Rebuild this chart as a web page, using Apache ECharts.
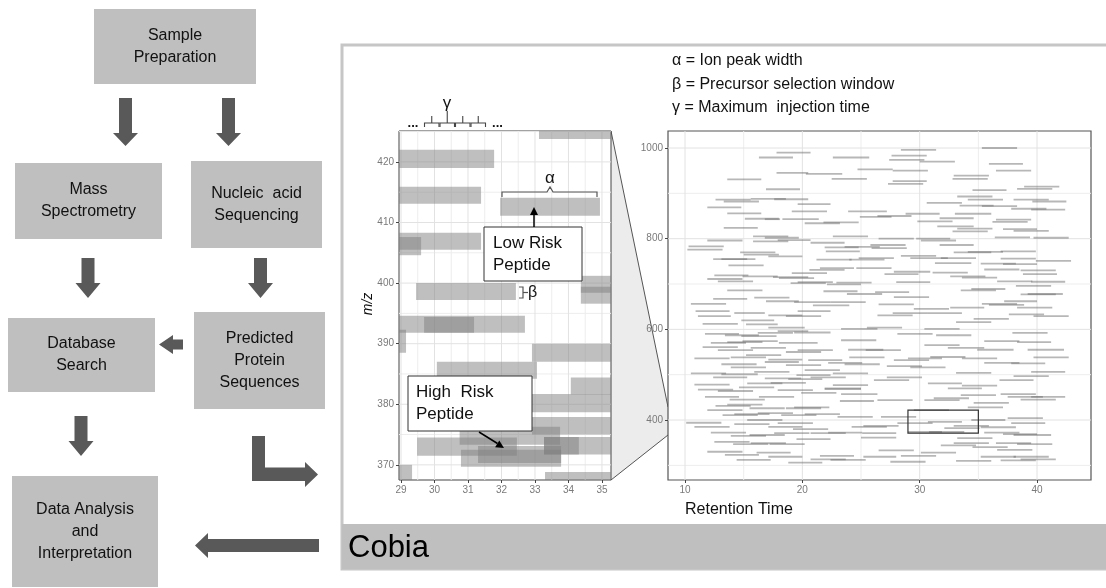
<!DOCTYPE html>
<html>
<head>
<meta charset="utf-8">
<script src="https://cdn.jsdelivr.net/npm/echarts@6/dist/echarts.min.js"></script>
<style>
  html, body { margin: 0; padding: 0; background: #fff; }
  #main { width: 1106px; height: 588px; }
</style>
</head>
<body>
<div id="main"></div>
<script>
// ---------- workflow steps ----------
const stepLabels = [
  'Sample\nPreparation',
  'Mass\nSpectrometry',
  'Nucleic  acid\nSequencing',
  'Database\nSearch',
  'Predicted\nProtein\nSequences',
  'Data Analysis\nand\nInterpretation'
];

// ---------- legend of the parameters ----------
const paramNotes = ['α = Ion peak width', 'β = Precursor selection window', 'γ = Maximum  injection time'];
const panelTitle = 'Cobia';

// ---------- magnified region: axis ranges and ticks ----------
const zoomX = [28.94, 35.27];
const zoomY = [367.5, 425.1];
const zoomXTicks = [29, 30, 31, 32, 33, 34, 35];
const zoomYTicks = [370, 380, 390, 400, 410, 420];
const zoomXMinor = [29.5, 30.5, 31.5, 32.5, 33.5, 34.5];
const zoomYMinor = [375, 385, 395, 405, 415, 425];

// precursor windows: [rtStart, rtEnd, mzLow, mzHigh]
const precursorWindows = [
  [33.12, 35.6, 423.8, 427.0],
  [28.6, 31.78, 419.0, 422.0],
  [28.6, 31.39, 413.1, 415.9],
  [31.96, 34.94, 411.1, 414.1],
  [28.6, 31.39, 405.5, 408.3],
  [28.6, 29.6, 404.6, 407.6],
  [29.45, 32.43, 397.2, 400.0],
  [34.37, 35.6, 398.4, 401.2],
  [34.37, 35.6, 396.6, 399.4],
  [28.6, 32.70, 391.8, 394.6],
  [29.69, 31.18, 391.8, 394.4],
  [28.6, 29.15, 388.5, 392.3],
  [32.91, 35.6, 387.0, 390.0],
  [30.07, 33.06, 384.2, 387.0],
  [34.07, 35.6, 381.6, 384.4],
  [32.91, 35.6, 378.7, 381.7],
  [32.91, 35.6, 375.0, 377.9],
  [30.75, 33.75, 373.3, 376.3],
  [29.48, 32.46, 371.5, 374.5],
  [31.3, 33.78, 370.3, 373.1],
  [30.79, 33.78, 369.7, 372.5],
  [33.27, 34.31, 371.7, 374.6],
  [33.27, 35.6, 371.7, 374.6],
  [33.3, 35.6, 366.0, 368.8],
  [28.6, 29.33, 366.0, 370.0]
];

// ---------- full run: axis ranges and ticks ----------
const overX = [8.55, 44.6];
const overY = [267.7, 1037.5];
const overXTicks = [10, 20, 30, 40];
const overYTicks = [400, 600, 800, 1000];
const overXMinor = [15, 25, 35];
const overYMinor = [300, 500, 700, 900];

// region shown magnified: [rtStart, rtEnd, mzLow, mzHigh]
const zoomBox = [[29, 35, 371, 422]];

// ion peaks: [rtStart, rtEnd, mz]
const ionPeaks = [
  [17.8,20.7,990],[16.3,19.2,979],[22.6,25.7,979],[24.7,27.7,953],[17.8,20.5,945],[20.3,23.4,943],[13.6,16.5,931],[22.5,25.5,932],
  [16.9,19.8,909],[12.6,15.6,886],[13.3,16.3,882],[15.6,18.6,888],[17.6,20.5,887],[11.9,14.8,869],[19.6,22.4,876],[19.1,22.1,860],
  [23.9,27.2,860],[13.6,16.5,856],[15.1,18.0,844],[16.8,18.1,843],[18.3,21.4,843],[24.9,27.6,848],[20.2,23.2,834],[21.8,24.8,836],
  [13.3,16.2,824],[15.8,18.8,805],[16.8,19.7,802],[22.6,25.6,805],[11.9,14.9,796],[15.8,18.8,794],[17.9,20.7,797],[20.7,23.6,791],
  [10.3,13.3,783],[10.2,13.2,776],[21.9,24.8,781],[23.6,26.6,782],[14.7,17.7,770],[15.0,18.0,765],[22.0,24.9,772],[12.4,15.3,755],
  [13.1,16.0,755],[17.1,20.0,761],[21.2,24.2,754],[24.0,27.0,754],[13.7,16.7,741],[21.5,24.4,735],[20.6,23.6,731],[19.1,22.1,724],
  [12.5,15.4,719],[11.9,14.9,711],[12.8,15.8,706],[14.9,17.9,717],[17.5,20.5,715],[18.0,21.0,713],[19.0,22.0,702],[19.6,22.6,704],
  [22.1,25.0,699],[22.9,25.9,703],[13.6,16.6,686],[21.8,24.7,684],[23.8,26.8,678],[12.4,15.3,667],[15.9,18.9,670],[16.9,19.7,662],
  [19.3,22.4,660],[10.5,13.5,656],[22.4,25.4,660],[20.9,24.0,653],
  [28.4,31.4,996],[35.3,38.3,1000],[27.6,30.6,983],[27.4,30.4,974],[30.0,33.0,970],[27.7,30.7,950],[35.9,38.8,965],[36.5,39.5,950],
  [27.7,30.6,927],[27.3,30.3,921],[32.9,35.9,939],[32.8,35.8,932],[34.5,37.4,907],[38.3,41.3,910],[38.9,41.9,915],[33.2,36.2,893],
  [34.1,37.1,886],[38.0,41.0,886],[39.6,42.5,882],[30.6,33.6,879],[33.4,36.3,873],[35.3,38.3,872],[37.8,40.8,866],[39.5,42.4,864],
  [28.8,31.7,855],[26.4,29.3,850],[33.0,36.1,855],[31.7,34.6,845],[29.8,32.8,838],[36.5,39.5,842],[36.2,39.2,837],[31.5,34.6,827],
  [33.2,36.2,822],[32.8,35.8,816],[37.1,40.0,821],[38.0,41.0,817],[26.5,29.5,800],[29.7,32.6,800],[30.1,33.1,796],[36.4,39.4,803],
  [39.7,42.7,802],[25.8,28.8,786],[31.7,34.6,786],[25.9,28.9,779],[28.4,31.4,762],[32.9,36.1,770],[34.1,37.1,771],[36.9,39.9,772],
  [24.8,27.8,757],[31.8,34.8,757],[29.2,32.4,757],[36.9,39.9,756],[31.3,34.4,746],[35.2,38.2,745],[37.1,40.0,744],[39.9,42.9,751],
  [24.6,27.6,735],[27.0,29.9,722],[27.8,30.9,727],[31.1,34.1,725],[32.6,35.6,717],[33.6,36.6,714],[35.5,38.5,732],[38.6,41.6,730],
  [38.8,41.7,722],[36.6,39.6,706],[28.0,30.9,704],[38.2,41.2,696],[39.5,42.4,705],[33.5,36.5,686],[34.4,37.3,689],[26.2,29.1,682],
  [38.6,41.6,677],[39.2,42.2,678],[27.8,30.8,671],[37.2,40.0,662],[26.5,29.5,655],[35.3,38.3,656],[35.9,38.9,654],
  [10.9,13.8,640],[14.2,16.8,636],[11.1,13.9,629],[14.8,17.6,620],[15.2,17.9,611],[17.1,20.0,631],[18.6,21.6,629],[19.6,22.4,640],
  [11.5,14.5,612],[17.1,20.2,604],[17.9,20.5,596],[23.3,26.4,601],[11.7,14.6,590],[13.4,16.3,587],[14.8,17.8,585],[16.2,19.2,592],
  [19.3,22.4,593],[12.2,15.2,570],[13.6,16.6,572],[14.9,17.9,574],[18.0,21.3,570],[23.3,26.3,576],[11.5,14.5,561],[12.8,15.8,554],
  [15.6,18.6,559],[18.6,21.6,550],[19.6,22.6,554],[23.9,26.9,555],[10.8,13.8,536],[13.9,16.9,538],[15.2,18.2,543],[17.1,20.0,533],
  [20.5,23.4,532],[24.0,27.0,538],[13.1,16.1,523],[13.9,16.9,516],[16.8,19.7,528],[18.6,21.6,521],[20.2,23.2,510],[22.2,25.1,526],
  [23.6,26.6,523],[10.5,13.5,503],[13.1,16.2,501],[15.9,18.9,506],[12.4,15.3,494],[16.8,19.9,492],[19.5,22.4,499],[20.7,23.7,494],
  [22.6,25.6,503],[18.8,21.7,490],[10.8,13.8,478],[15.3,18.3,481],[17.3,20.3,482],[21.9,25.0,470],[21.9,25.0,468],[22.6,25.6,477],
  [11.1,14.1,467],[12.8,15.8,464],[14.6,17.6,472],[17.9,20.9,466],[19.9,22.9,460],[23.3,26.4,457],[11.7,14.6,451],[13.8,16.8,445],
  [16.3,19.3,451],[23.2,26.1,442],[13.6,16.6,434],[12.6,15.6,431],[19.3,22.3,428],[18.6,21.6,426],[15.5,18.5,426],[11.9,14.9,422],
  [13.2,16.2,411],[14.2,17.2,413],[16.2,19.2,415],[18.2,21.2,411],[20.2,23.2,413],[10.1,13.1,394],[10.8,13.8,385],[14.2,17.2,391],
  [15.3,18.3,400],[17.9,20.9,393],[17.1,20.0,385],[23.0,26.0,407],[24.2,27.2,385],[12.2,15.2,372],[13.9,16.9,365],[15.5,18.5,367],
  [17.6,20.6,371],[19.2,22.2,380],[20.7,23.7,371],[22.2,25.1,372],[12.5,15.5,352],[14.1,17.1,347],[15.6,18.6,349],[17.2,20.2,347],
  [19.5,22.4,358],[11.9,14.9,330],[13.4,16.3,323],[16.1,19.0,328],[17.1,20.0,319],[14.4,17.3,312],[18.8,21.7,306],[21.5,24.4,321],
  [20.7,23.7,313],[22.4,25.4,312],[25.2,28.0,319],
  [29.5,32.5,645],[32.6,35.5,648],[38.3,41.3,648],[26.4,29.4,631],[27.7,30.7,636],[30.7,33.6,636],[34.6,37.6,623],[37.6,40.6,633],
  [39.7,42.7,629],[33.1,36.1,616],[30.4,33.4,601],[25.5,28.5,604],[37.9,40.9,592],[28.1,31.1,590],[31.4,34.4,587],[35.5,38.5,574],
  [38.3,41.2,572],[30.4,33.4,565],[32.4,35.5,559],[34.9,38.0,555],[39.2,42.3,555],[25.4,28.4,554],[27.8,30.8,532],[29.0,31.9,536],
  [30.9,33.9,539],[33.6,36.6,536],[35.5,38.5,526],[37.8,40.7,525],[39.7,42.7,538],[27.2,30.2,519],[29.2,32.2,516],[33.1,36.1,504],
  [38.0,41.0,497],[39.5,42.4,506],[26.1,29.1,488],[27.2,30.2,494],[30.7,33.6,481],[32.4,35.3,470],[33.6,36.6,476],[36.8,39.7,488],
  [31.2,34.2,448],[30.4,33.4,444],[33.5,36.5,455],[34.6,37.6,438],[36.9,39.9,457],[37.5,40.5,451],[39.5,42.4,451],[38.6,41.6,445],
  [26.4,29.4,444],[34.1,37.1,428],[29.5,32.5,422],[26.7,29.7,407],[34.4,37.3,400],[37.5,40.5,404],[28.1,31.1,393],[30.7,33.6,396],
  [32.1,35.1,382],[32.9,35.9,387],[35.2,38.2,384],[37.8,40.7,393],[25.2,28.2,387],[30.8,33.8,374],[25.1,28.0,371],[35.5,38.5,372],
  [29.0,31.9,374],[37.1,40.0,369],[25.0,28.0,361],[33.2,36.2,360],[38.0,41.2,367],[31.8,34.8,344],[32.9,35.9,349],[34.5,37.5,340],
  [36.5,39.5,349],[38.3,41.3,347],[26.5,29.5,333],[30.1,33.1,328],[36.6,39.6,334],[28.4,31.4,321],[33.1,36.1,310],[35.2,38.2,319],
  [38.0,41.0,319],[38.6,41.6,313],[27.5,30.5,308],[36.9,39.9,311]
];

// ---------- styling ----------
const FONT = '"Liberation Sans", Arial, sans-serif';
const BOX_FILL = '#bfbfbf';
const ARROW_FILL = '#595959';
const GRID_MAJOR = '#e2e2e2';
const GRID_MINOR = '#ededed';
const AXIS_TEXT = '#7a7a7a';

// ---------- flowchart layout ----------
const stepBoxes = [
  [94, 9, 162, 75],
  [15, 163, 147, 76],
  [191, 161, 131, 87],
  [8, 318, 147, 74],
  [194, 312, 131, 97],
  [12, 476, 146, 111]
];

function downArrow(cx, y0, y1, headY) {
  return [[cx - 6.5, y0], [cx + 6.5, y0], [cx + 6.5, headY], [cx + 12.5, headY], [cx, y1], [cx - 12.5, headY], [cx - 6.5, headY]];
}
const arrowShapes = [
  downArrow(125.5, 98, 146, 133),
  downArrow(228.5, 98, 146, 133),
  downArrow(88, 258, 298, 283),
  downArrow(260.5, 258, 298, 283),
  downArrow(81, 416, 456, 441),
  [[183, 339.5], [173, 339.5], [173, 335], [159, 344.5], [173, 354], [173, 349.5], [183, 349.5]],
  [[252, 436], [265, 436], [265, 467.5], [305, 467.5], [305, 462], [318, 474.5], [305, 487], [305, 481], [252, 481]],
  [[319, 539], [208, 539], [208, 533], [195, 545.5], [208, 558], [208, 552], [319, 552]]
];

const graphics = [];

// panel frame and title band
graphics.push({ type: 'rect', z: -10, shape: { x: 342, y: 45, width: 800, height: 524 },
  style: { fill: '#ffffff', stroke: '#c6c6c6', lineWidth: 3 } });
graphics.push({ type: 'rect', z: -9, shape: { x: 342, y: 524, width: 800, height: 45 },
  style: { fill: '#bfbfbf' } });
graphics.push({ type: 'text', z: 50, x: 348, y: 548,
  style: { text: panelTitle, font: '31px ' + FONT, fill: '#000', verticalAlign: 'middle' } });

// boxes
stepLabels.forEach((label, i) => {
  const [x, y, w, h] = stepBoxes[i];
  graphics.push({ type: 'rect', shape: { x, y, width: w, height: h }, style: { fill: BOX_FILL } });
  graphics.push({ type: 'text', x: x + w / 2, y: y + h / 2,
    style: { text: label, font: '16px ' + FONT, fill: '#111', align: 'center', verticalAlign: 'middle', lineHeight: 22 } });
});
arrowShapes.forEach(pts => {
  graphics.push({ type: 'polygon', shape: { points: pts }, style: { fill: ARROW_FILL } });
});

// parameter notes
paramNotes.forEach((t, i) => {
  graphics.push({ type: 'text', x: 672, y: 61 + i * 23.5,
    style: { text: t, font: '16px ' + FONT, fill: '#111', verticalAlign: 'middle' } });
});

// magnification wedge between the two plots
graphics.push({ type: 'polygon', z: -5, shape: { points: [[611, 131], [668, 407], [668, 435], [611, 480]] },
  style: { fill: '#ececec' } });
graphics.push({ type: 'polyline', z: -4, shape: { points: [[611, 131], [668, 407]] }, style: { stroke: '#555', lineWidth: 1 } });
graphics.push({ type: 'polyline', z: -4, shape: { points: [[611, 480], [668, 435]] }, style: { stroke: '#555', lineWidth: 1 } });

// axis titles
graphics.push({ type: 'text', z: 50, x: 368, y: 304, rotation: Math.PI / 2,
  style: { text: 'm/z', font: 'italic 14px ' + FONT, fill: '#111', align: 'center', verticalAlign: 'middle' } });
graphics.push({ type: 'text', z: 50, x: 685, y: 510,
  style: { text: 'Retention Time', font: '16px ' + FONT, fill: '#111', verticalAlign: 'middle' } });

// annotations in the magnified plot
const ANN = '#333';
graphics.push({ type: 'rect', z: 100, shape: { x: 484, y: 227, width: 98, height: 54 },
  style: { fill: '#fff', stroke: ANN, lineWidth: 1 } });
graphics.push({ type: 'text', z: 101, x: 493, y: 254,
  style: { text: 'Low Risk\nPeptide', font: '17px ' + FONT, fill: '#111', verticalAlign: 'middle', lineHeight: 22 } });
graphics.push({ type: 'line', z: 101, shape: { x1: 534, y1: 227, x2: 534, y2: 213 }, style: { stroke: '#000', lineWidth: 1.5 } });
graphics.push({ type: 'polygon', z: 101, shape: { points: [[530, 215], [538, 215], [534, 207]] }, style: { fill: '#000' } });

graphics.push({ type: 'rect', z: 100, shape: { x: 408, y: 376, width: 124, height: 55 },
  style: { fill: '#fff', stroke: ANN, lineWidth: 1 } });
graphics.push({ type: 'text', z: 101, x: 416, y: 403.5,
  style: { text: 'High  Risk\nPeptide', font: '17px ' + FONT, fill: '#111', verticalAlign: 'middle', lineHeight: 22 } });
graphics.push({ type: 'line', z: 101, shape: { x1: 479, y1: 432, x2: 497.5, y2: 443.5 }, style: { stroke: '#000', lineWidth: 1.5 } });
graphics.push({ type: 'polygon', z: 101, shape: { points: [[504, 448], [495.1, 447.2], [499.3, 440.4]] }, style: { fill: '#000' } });

// alpha bracket
graphics.push({ type: 'polyline', z: 101, shape: { points: [[502, 197], [502, 192], [547, 192], [550, 187], [553, 192], [597, 192], [597, 197]] },
  style: { stroke: '#555', lineWidth: 1.2, fill: null } });
graphics.push({ type: 'text', z: 101, x: 550, y: 178,
  style: { text: 'α', font: '17px ' + FONT, fill: '#111', align: 'center', verticalAlign: 'middle' } });
// beta bracket
graphics.push({ type: 'polyline', z: 101, shape: { points: [[519, 287], [523, 287], [523, 298], [519, 298]] },
  style: { stroke: '#555', lineWidth: 1.2, fill: null } });
graphics.push({ type: 'line', z: 101, shape: { x1: 523, y1: 292.5, x2: 528, y2: 292.5 }, style: { stroke: '#555', lineWidth: 1.2 } });
graphics.push({ type: 'text', z: 101, x: 528, y: 293,
  style: { text: 'β', font: '16px ' + FONT, fill: '#111', verticalAlign: 'middle' } });
// gamma brackets
for (let k = 0; k < 4; k++) {
  const x0 = 424.5 + k * 15.5, x1 = x0 + 14.5, xm = (x0 + x1) / 2;
  graphics.push({ type: 'polyline', z: 101, shape: { points: [[x0, 127], [x0, 123], [x1, 123], [x1, 127]] },
    style: { stroke: '#444', lineWidth: 1.1, fill: null } });
  graphics.push({ type: 'line', z: 101, shape: { x1: xm, y1: 123, x2: xm, y2: k === 1 ? 111 : 116 },
    style: { stroke: '#444', lineWidth: 1.1 } });
}
graphics.push({ type: 'text', z: 101, x: 447, y: 103,
  style: { text: 'γ', font: '17px ' + FONT, fill: '#111', align: 'center', verticalAlign: 'middle' } });
graphics.push({ type: 'text', z: 101, x: 413, y: 123,
  style: { text: '...', font: 'bold 13px ' + FONT, fill: '#111', align: 'center', verticalAlign: 'middle' } });
graphics.push({ type: 'text', z: 101, x: 497.5, y: 123,
  style: { text: '...', font: 'bold 13px ' + FONT, fill: '#111', align: 'center', verticalAlign: 'middle' } });

// ---------- render helpers ----------
function gridLineData(xMajor, xMinor, yMajor, yMinor) {
  return [].concat(
    xMinor.map(v => [v, 1]), yMinor.map(v => [v, 3]),
    xMajor.map(v => [v, 0]), yMajor.map(v => [v, 2]));
}
function makeGridRenderer(xr, yr) {
  return function (params, api) {
    const cs = params.coordSys;
    const v = api.value(0), kind = api.value(1);
    const color = (kind === 0 || kind === 2) ? GRID_MAJOR : GRID_MINOR;
    if (kind < 2) {
      if (v < xr[0] || v > xr[1]) return null;
      const p = api.coord([v, yr[0]]);
      return { type: 'line', shape: { x1: p[0], y1: cs.y, x2: p[0], y2: cs.y + cs.height }, style: { stroke: color, lineWidth: 1 } };
    }
    if (v < yr[0] || v > yr[1]) return null;
    const p = api.coord([xr[0], v]);
    return { type: 'line', shape: { x1: cs.x, y1: p[1], x2: cs.x + cs.width, y2: p[1] }, style: { stroke: color, lineWidth: 1 } };
  };
}
function makeRectRenderer(xr, yr, style) {
  return function (params, api) {
    const x0 = Math.max(api.value(0), xr[0]), x1 = Math.min(api.value(1), xr[1]);
    const y0 = Math.max(api.value(2), yr[0]), y1 = Math.min(api.value(3), yr[1]);
    if (x1 <= x0 || y1 <= y0) return null;
    const a = api.coord([x0, y1]), b = api.coord([x1, y0]);
    return { type: 'rect', shape: { x: a[0], y: a[1], width: b[0] - a[0], height: b[1] - a[1] }, style };
  };
}
function renderPeak(params, api) {
  const x0 = Math.max(api.value(0), overX[0]), x1 = Math.min(api.value(1), overX[1]);
  const a = api.coord([x0, api.value(2)]), b = api.coord([x1, api.value(2)]);
  return { type: 'line', shape: { x1: a[0], y1: a[1], x2: b[0], y2: b[1] },
    style: { stroke: 'rgba(105,105,105,0.48)', lineWidth: 1.8 } };
}

function valueAxis(gridIndex, range, ticks) {
  return {
    type: 'value', gridIndex, min: range[0], max: range[1],
    axisLine: { show: false },
    splitLine: { show: false },
    axisTick: { show: true, length: 3, customValues: ticks, lineStyle: { color: '#444' } },
    axisLabel: { customValues: ticks, color: AXIS_TEXT, fontSize: 10, fontFamily: FONT, margin: 5,
      formatter: v => String(v) }
  };
}

const option = {
  animation: false,
  backgroundColor: '#ffffff',
  grid: [
    { left: 399, top: 131, width: 212, height: 349, show: true, backgroundColor: '#fff', borderColor: '#444', borderWidth: 1 },
    { left: 668, top: 131, width: 423, height: 349, show: true, backgroundColor: '#fff', borderColor: '#555', borderWidth: 1.2 }
  ],
  xAxis: [valueAxis(0, zoomX, zoomXTicks), valueAxis(1, overX, overXTicks)],
  yAxis: [valueAxis(0, zoomY, zoomYTicks), valueAxis(1, overY, overYTicks)],
  series: [
    { type: 'custom', name: 'zoomGrid', xAxisIndex: 0, yAxisIndex: 0, z: 1, silent: true,
      data: gridLineData(zoomXTicks, zoomXMinor, zoomYTicks, zoomYMinor), renderItem: makeGridRenderer(zoomX, zoomY) },
    { type: 'custom', name: 'precursorWindows', xAxisIndex: 0, yAxisIndex: 0, z: 2, silent: true,
      encode: { x: [0, 1], y: [2, 3] }, data: precursorWindows,
      renderItem: makeRectRenderer(zoomX, zoomY, { fill: 'rgba(128,128,128,0.5)' }) },
    { type: 'custom', name: 'overGrid', xAxisIndex: 1, yAxisIndex: 1, z: 1, silent: true,
      data: gridLineData(overXTicks, overXMinor, overYTicks, overYMinor), renderItem: makeGridRenderer(overX, overY) },
    { type: 'custom', name: 'ionPeaks', xAxisIndex: 1, yAxisIndex: 1, z: 2, silent: true,
      encode: { x: [0, 1], y: 2 }, data: ionPeaks, renderItem: renderPeak },
    { type: 'custom', name: 'zoomBox', xAxisIndex: 1, yAxisIndex: 1, z: 3, silent: true,
      encode: { x: [0, 1], y: [2, 3] }, data: zoomBox,
      renderItem: makeRectRenderer(overX, overY, { fill: 'none', stroke: '#333', lineWidth: 1.2 }) }
  ],
  graphic: { elements: graphics }
};

const chart = echarts.init(document.getElementById('main'));
chart.setOption(option);
</script>
</body>
</html>
